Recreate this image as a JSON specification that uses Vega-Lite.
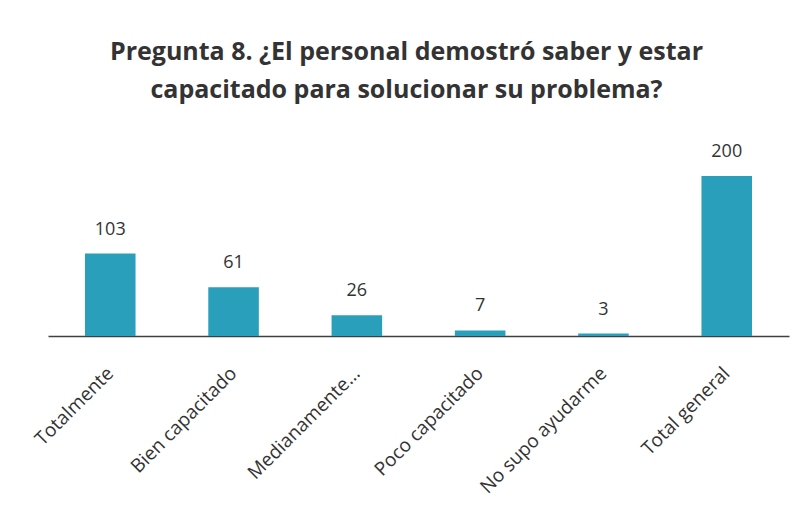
{
  "$schema": "https://vega.github.io/schema/vega-lite/v6.json",
  "autosize": {"type": "none"},
  "width": 741,
  "height": 184,
  "padding": {"left": 48, "top": 152, "right": 14, "bottom": 192},
  "background": "white",
  "title": {
    "text": ["Pregunta 8. ¿El personal demostró saber y estar", "capacitado para solucionar su problema?"],
    "font": "Open Sans",
    "fontSize": 25,
    "fontWeight": "bold",
    "color": "#333333",
    "anchor": "middle",
    "frame": "group",
    "offset": 40,
    "dx": -12,
    "lineHeight": 38
  },
  "data": {
    "values": [
      {"categoria": "Totalmente", "valor": 103},
      {"categoria": "Bien capacitado", "valor": 61},
      {"categoria": "Medianamente...", "valor": 26},
      {"categoria": "Poco capacitado", "valor": 7},
      {"categoria": "No supo ayudarme", "valor": 3},
      {"categoria": "Total general", "valor": 200}
    ]
  },
  "encoding": {
    "x": {
      "field": "categoria",
      "type": "nominal",
      "sort": null,
      "scale": {"paddingInner": 0.59, "paddingOuter": 0.3},
      "axis": {
        "title": null,
        "labelAngle": -45,
        "labelAlign": "right",
        "labelBaseline": "middle",
        "labelFont": "Open Sans",
        "labelFontSize": 19,
        "labelColor": "#333333",
        "labelPadding": 34,
        "ticks": false,
        "domainColor": "#404040",
        "domainWidth": 1.5
      }
    },
    "y": {
      "field": "valor",
      "type": "quantitative",
      "scale": {"domain": [0, 230]},
      "axis": null
    }
  },
  "layer": [
    {"mark": {"type": "bar", "color": "#2a9fbc"}},
    {
      "mark": {"type": "text", "dy": -24, "font": "Open Sans", "fontSize": 18, "color": "#333333"},
      "encoding": {"text": {"field": "valor", "type": "quantitative"}}
    }
  ],
  "config": {"view": {"stroke": null}}
}
